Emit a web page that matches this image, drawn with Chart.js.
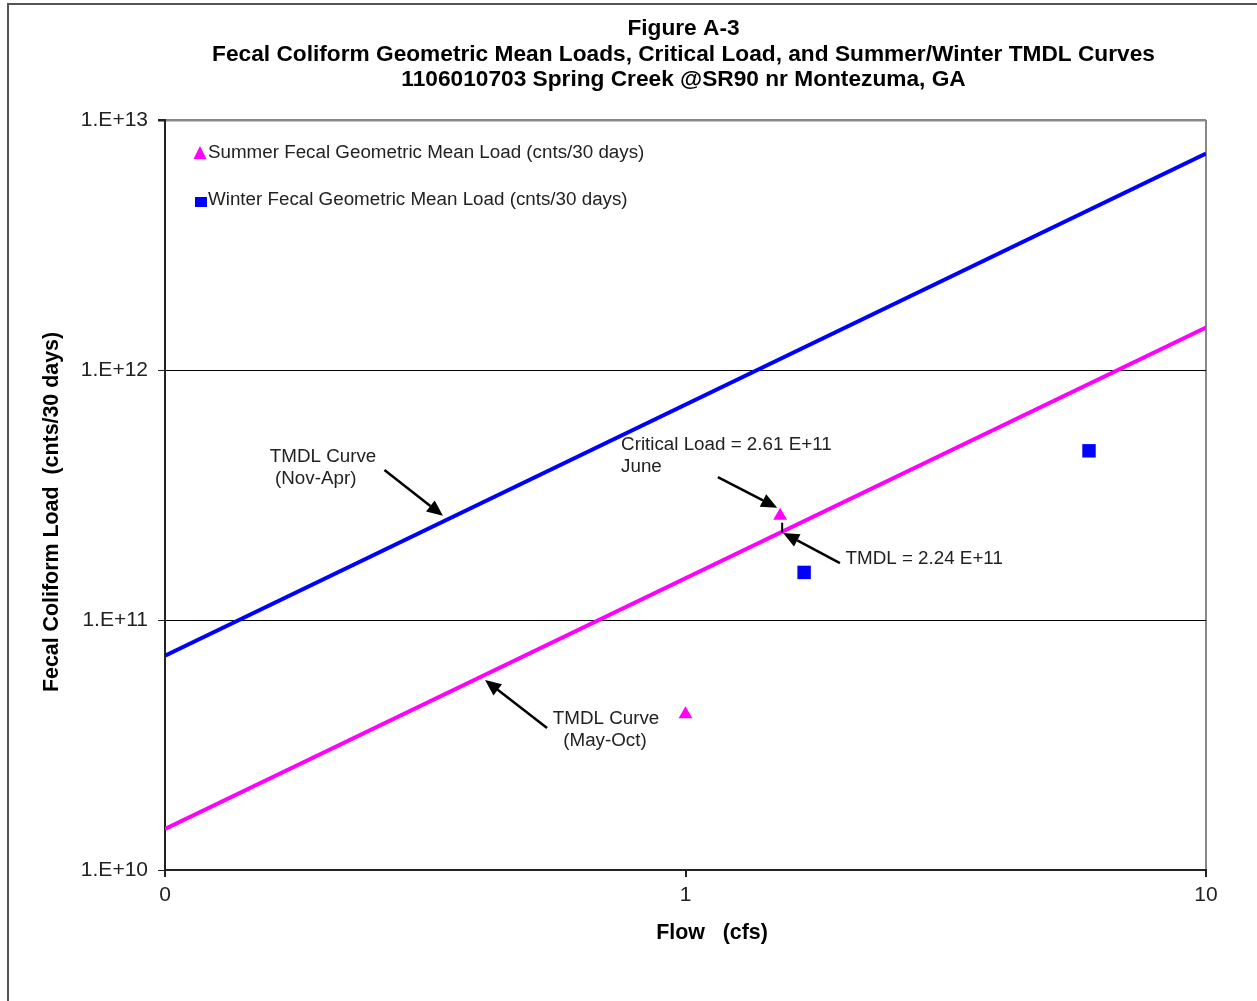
<!DOCTYPE html>
<html>
<head>
<meta charset="utf-8">
<script src="https://cdn.jsdelivr.net/npm/chart.js@4.4.1/dist/chart.umd.min.js"></script>
<style>
  html, body { margin: 0; padding: 0; background: #fff; }
  #wrap { width: 1257px; height: 1001px; }
</style>
</head>
<body>
<div id="wrap"><canvas id="chart" width="1257" height="1001"></canvas></div>
<script>
// Data
const flowTicks = [0.1, 1, 10];
const flowTickLabels = ['0', '1', '10'];
const loadTicks = [1e10, 1e11, 1e12, 1e13];
const loadTickLabels = ['1.E+10', '1.E+11', '1.E+12', '1.E+13'];

const summerFlow = [1.0, 1.52];
const summerLoad = [4.2e10, 2.61e11];
const winterFlow = [1.69, 5.96];
const winterLoad = [1.55e11, 4.75e11];

const curveFlow = [0.1, 10];
const summerCurveLoad = [1.46e10, 1.48e12];
const winterCurveLoad = [7.2e10, 7.35e12];

const titleLines = [
    'Figure A-3',
    'Fecal Coliform Geometric Mean Loads, Critical Load, and Summer/Winter TMDL Curves',
    '1106010703 Spring Creek @SR90 nr Montezuma, GA'
];
const legendLabels = [
    'Summer Fecal Geometric Mean Load (cnts/30 days)',
    'Winter Fecal Geometric Mean Load (cnts/30 days)'
];

// annotation text anchored at (flow, load), arrows from tail to head
const notes = [
    { lines: ['TMDL Curve', ' (Nov-Apr)'], x: 0.159, y: 4.53e11 },
    { lines: ['Critical Load = 2.61 E+11', 'June'], x: 0.752, y: 5.06e11 },
    { lines: ['TMDL = 2.24 E+11'], x: 2.03, y: 1.77e11 },
    { lines: ['TMDL Curve', '  (May-Oct)'], x: 0.556, y: 4.06e10 }
];
const arrows = [
    { from: [0.264, 3.98e11], to: [0.342, 2.61e11] },
    { from: [1.154, 3.73e11], to: [1.50, 2.81e11] },
    { from: [1.98, 1.69e11], to: [1.54, 2.23e11] },
    { from: [0.542, 3.70e10], to: [0.412, 5.75e10] }
];

const FONT = '"Liberation Sans", Arial, sans-serif';
const BLUE = '#0000FF';
const PINK = '#FF00FF';

function toPoints(xs, ys) {
    return xs.map((x, i) => ({ x: x, y: ys[i] }));
}

function drawArrow(ctx, x1, y1, x2, y2) {
    const ang = Math.atan2(y2 - y1, x2 - x1);
    const headLen = 16, headW = 7;
    const bx = x2 - headLen * Math.cos(ang);
    const by = y2 - headLen * Math.sin(ang);
    ctx.strokeStyle = '#000';
    ctx.lineWidth = 2.5;
    ctx.beginPath();
    ctx.moveTo(x1, y1);
    ctx.lineTo(bx, by);
    ctx.stroke();
    ctx.fillStyle = '#000';
    ctx.beginPath();
    ctx.moveTo(x2, y2);
    ctx.lineTo(bx + headW * Math.sin(ang), by - headW * Math.cos(ang));
    ctx.lineTo(bx - headW * Math.sin(ang), by + headW * Math.cos(ang));
    ctx.closePath();
    ctx.fill();
}

const framePlugin = {
    id: 'frame',
    beforeDraw(chart) {
        const ctx = chart.ctx;
        ctx.save();
        ctx.fillStyle = '#fff';
        ctx.fillRect(0, 0, chart.width, chart.height);
        // outer figure border (left and top)
        ctx.strokeStyle = '#555';
        ctx.lineWidth = 2;
        ctx.beginPath();
        ctx.moveTo(8, chart.height);
        ctx.lineTo(8, 4);
        ctx.lineTo(chart.width, 4);
        ctx.stroke();
        ctx.restore();
    },
    afterDraw(chart) {
        const ctx = chart.ctx;
        const area = chart.chartArea;
        const xs = chart.scales.x, ys = chart.scales.y;
        ctx.save();

        // titles
        ctx.fillStyle = '#000';
        ctx.textAlign = 'center';
        ctx.textBaseline = 'middle';
        ctx.font = 'bold 22.7px ' + FONT;
        const cx = (area.left + area.right) / 2;
        titleLines.forEach((t, i) => ctx.fillText(t, cx - 2, 29 + i * 25.5));

        // axis titles
        ctx.font = 'bold 21.4px ' + FONT;
        ctx.fillText('Flow   (cfs)', 712, 933);
        ctx.save();
        ctx.translate(52, 512);
        ctx.rotate(-Math.PI / 2);
        ctx.fillText('Fecal Coliform Load  (cnts/30 days)', 0, 0);
        ctx.restore();

        // legend inside plot
        ctx.font = '18.8px ' + FONT;
        ctx.fillStyle = '#222';
        ctx.textAlign = 'left';
        ctx.fillText(legendLabels[0], 208, 153);
        ctx.fillText(legendLabels[1], 208, 200);
        ctx.fillStyle = PINK;
        ctx.beginPath();
        ctx.moveTo(200, 146);
        ctx.lineTo(206.5, 159);
        ctx.lineTo(193.5, 159);
        ctx.closePath();
        ctx.fill();
        ctx.fillStyle = BLUE;
        ctx.fillRect(195, 197, 12, 10);

        // annotations
        ctx.fillStyle = '#222';
        notes.forEach(n => {
            const px = xs.getPixelForValue(n.x);
            const py = ys.getPixelForValue(n.y);
            n.lines.forEach((l, i) => ctx.fillText(l, px, py + 1 + i * 22));
        });
        arrows.forEach(a => {
            drawArrow(ctx,
                xs.getPixelForValue(a.from[0]), ys.getPixelForValue(a.from[1]),
                xs.getPixelForValue(a.to[0]), ys.getPixelForValue(a.to[1]));
        });
        // short connector between critical load and TMDL
        const tx = xs.getPixelForValue(summerFlow[1]) + 2;
        ctx.strokeStyle = '#000';
        ctx.lineWidth = 2;
        ctx.beginPath();
        ctx.moveTo(tx, ys.getPixelForValue(2.24e11));
        ctx.lineTo(tx, ys.getPixelForValue(2.45e11));
        ctx.stroke();

        ctx.restore();
    }
};

const chart = new Chart(document.getElementById('chart'), {
    type: 'scatter',
    data: {
        datasets: [
            {
                label: 'TMDL Curve (Nov-Apr)',
                data: toPoints(curveFlow, winterCurveLoad),
                showLine: true,
                borderColor: BLUE,
                borderWidth: 4,
                pointRadius: 0
            },
            {
                label: 'TMDL Curve (May-Oct)',
                data: toPoints(curveFlow, summerCurveLoad),
                showLine: true,
                borderColor: PINK,
                borderWidth: 4,
                pointRadius: 0
            },
            {
                label: legendLabels[0],
                data: toPoints(summerFlow, summerLoad),
                pointStyle: 'triangle',
                pointRadius: 8,
                backgroundColor: PINK,
                borderColor: PINK,
                borderWidth: 0
            },
            {
                label: legendLabels[1],
                data: toPoints(winterFlow, winterLoad),
                pointStyle: 'rect',
                pointRadius: 9.5,
                backgroundColor: BLUE,
                borderColor: BLUE,
                borderWidth: 0
            }
        ]
    },
    options: {
        responsive: false,
        animation: false,
        layout: { padding: { top: 120, right: 51, left: 0, bottom: 0 } },
        plugins: {
            legend: { display: false },
            title: { display: false },
            tooltip: { enabled: false }
        },
        scales: {
            x: {
                type: 'logarithmic',
                min: 0.1,
                max: 10,
                afterBuildTicks: s => { s.ticks = flowTicks.map(v => ({ value: v })); },
                afterFit: s => { s.height = 131; },
                ticks: {
                    autoSkip: false,
                    maxRotation: 0,
                    padding: 6,
                    color: '#222',
                    font: { family: FONT, size: 21 },
                    callback: v => flowTickLabels[flowTicks.indexOf(v)]
                },
                grid: {
                    color: c => (c.tick && c.tick.value === 10) ? '#888' : 'rgba(0,0,0,0)',
                    lineWidth: 2,
                    tickColor: '#222',
                    tickLength: 7
                },
                border: { color: '#222', width: 2 }
            },
            y: {
                type: 'logarithmic',
                min: 1e10,
                max: 1e13,
                afterBuildTicks: s => { s.ticks = loadTicks.map(v => ({ value: v })); },
                afterFit: s => { s.width = 165; },
                ticks: {
                    autoSkip: false,
                    padding: 10,
                    color: '#222',
                    font: { family: FONT, size: 21 },
                    callback: v => loadTickLabels[loadTicks.indexOf(v)]
                },
                grid: {
                    color: c => (c.tick && c.tick.value === 1e13) ? '#888' : '#000',
                    lineWidth: c => (c.tick && c.tick.value === 1e13) ? 2.5 : 1,
                    tickColor: '#222',
                    tickLength: 7
                },
                border: { color: '#222', width: 2 }
            }
        }
    },
    plugins: [framePlugin]
});
</script>
</body>
</html>
